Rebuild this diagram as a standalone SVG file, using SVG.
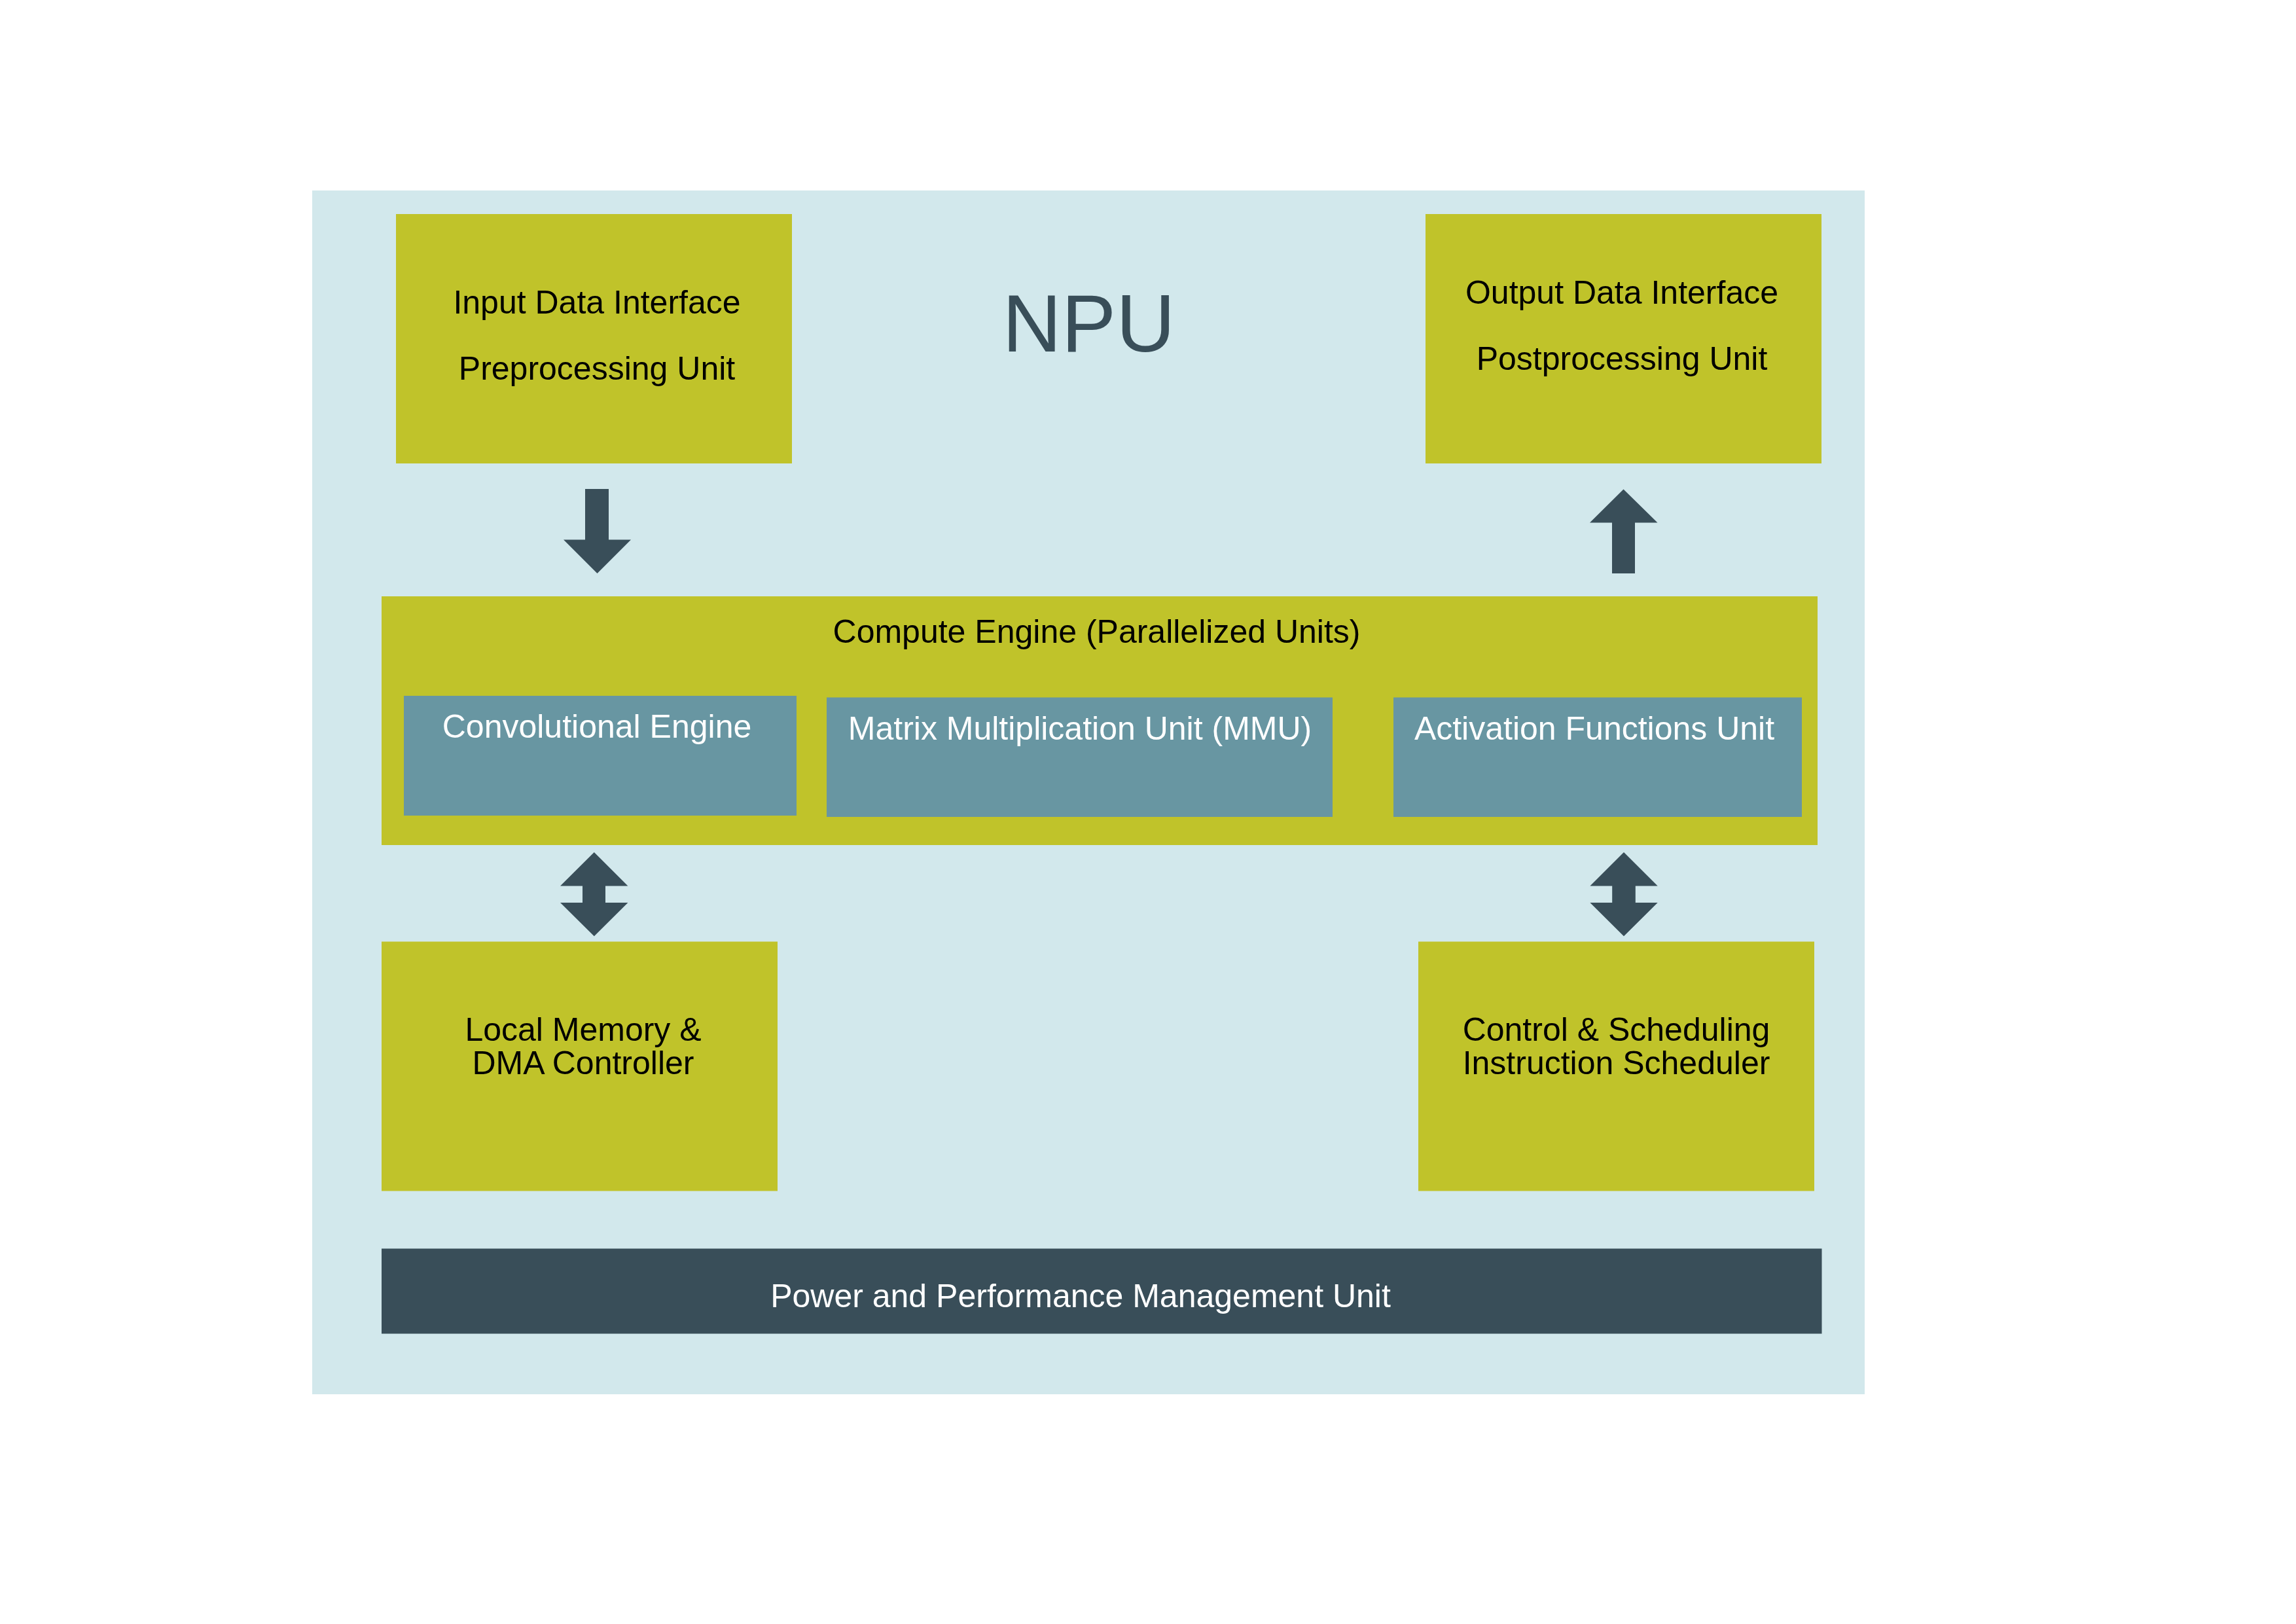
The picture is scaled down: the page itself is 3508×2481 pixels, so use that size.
<svg xmlns="http://www.w3.org/2000/svg" width="3508" height="2481" viewBox="0 0 3508 2481">
<style>
.olive{fill:#c0c32a}
.teal{fill:#6896a2}
.dark{fill:#394e59}
.t{font-family:"Liberation Sans",Arial,sans-serif;font-size:50px;text-anchor:middle}
.blk{fill:#000000}
.wht{fill:#ffffff}
</style>
<rect width="3508" height="2481" fill="#ffffff"/>
<g id="npu">
<rect x="477" y="291" width="2372" height="1839" fill="#d2e8ec"/>
<text x="1663.5" y="537" font-family="Liberation Sans, Arial, sans-serif" font-size="125" text-anchor="middle" fill="#394e59">NPU</text>
</g>
<g id="input-interface">
<rect class="olive" x="605" y="327" width="605" height="381"/>
<text class="t blk" x="912" y="479">Input Data Interface</text>
<text class="t blk" x="912" y="580">Preprocessing Unit</text>
</g>
<g id="output-interface">
<rect class="olive" x="2178" y="327" width="605" height="381"/>
<text class="t blk" x="2478" y="464">Output Data Interface</text>
<text class="t blk" x="2478" y="565">Postprocessing Unit</text>
</g>
<g id="compute-engine">
<rect class="olive" x="583" y="911" width="2194" height="380"/>
<text class="t blk" x="1675.5" y="982">Compute Engine (Parallelized Units)</text>
</g>
<g id="conv-engine">
<rect class="teal" x="617" y="1063" width="600" height="183"/>
<text class="t wht" x="912" y="1127">Convolutional Engine</text>
</g>
<g id="mmu">
<rect class="teal" x="1263" y="1065.5" width="773" height="182.5"/>
<text class="t wht" x="1650" y="1130">Matrix Multiplication Unit (MMU)</text>
</g>
<g id="activation">
<rect class="teal" x="2129" y="1065.5" width="624" height="182.5"/>
<text class="t wht" x="2436" y="1130">Activation Functions Unit</text>
</g>
<g id="local-memory">
<rect class="olive" x="583" y="1438.5" width="605" height="381"/>
<text class="t blk" x="891" y="1590">Local Memory &amp;</text>
<text class="t blk" x="891" y="1641">DMA Controller</text>
</g>
<g id="control-scheduling">
<rect class="olive" x="2167" y="1438.5" width="605" height="381"/>
<text class="t blk" x="2469.5" y="1590">Control &amp; Scheduling</text>
<text class="t blk" x="2469.5" y="1641">Instruction Scheduler</text>
</g>
<g id="power-management">
<rect class="dark" x="583" y="1907.5" width="2200.5" height="130"/>
<text class="t wht" x="1651" y="1997">Power and Performance Management Unit</text>
</g>
<g id="connectors" class="dark">
<polygon points="894,747 930,747 930,824.5 964,824.5 912.5,876 861,824.5 894,824.5"/>
<polygon points="2480.5,747.5 2532.5,798.5 2498,798.5 2498,876 2463,876 2463,798.5 2429,798.5"/>
<polygon points="907.8,1302 959.4,1353.4 925,1353.4 925,1379 959.4,1379 907.8,1430.3 856,1379 890,1379 890,1353.4 856,1353.4"/>
<polygon points="2481,1302 2532.7,1353.4 2498.8,1353.4 2498.8,1379 2532.7,1379 2481,1430.3 2429.4,1379 2463.2,1379 2463.2,1353.4 2429.4,1353.4"/>
</g>
</svg>
